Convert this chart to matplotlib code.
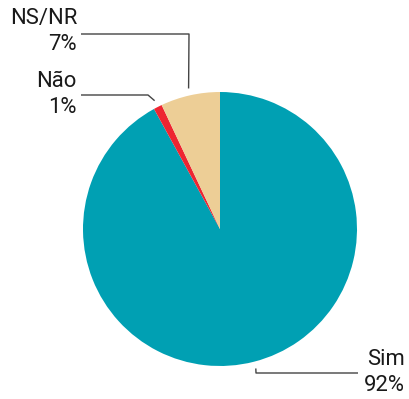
import numpy as np
import matplotlib.pyplot as plt

plt.rcParams['font.family'] = ['Roboto', 'DejaVu Sans']

# data
labels = ['Sim', 'Não', 'NS/NR']
values = [92, 1, 7]
colors = ['#00A0B3', '#EE2531', '#EDCE96']

# layout in pixels (y measured from the bottom)
W, H = 409, 399
center = (220, H - 229)
radius = 137

fig = plt.figure(figsize=(W / 100, H / 100), dpi=100)
ax = fig.add_axes([0, 0, 1, 1])

wedges, _ = ax.pie(values, colors=colors, startangle=90, counterclock=False,
                   center=center, radius=radius,
                   wedgeprops=dict(linewidth=0))
# pie() resets the limits, so set them afterwards
ax.set_xlim(0, W)
ax.set_ylim(0, H)
ax.set_aspect('equal')
ax.axis('off')

# leader line knees and label positions
knees = {
    'Sim': [(256, H - 373), (358, H - 373)],
    'Não': [(148, H - 95), (81, H - 95)],
    'NS/NR': [(189, H - 34), (81, H - 34)],
}
text_pos = {
    'Sim': (405, H - 349),
    'Não': (77, H - 71),
    'NS/NR': (77, H - 8),
}

for w, lab, v in zip(wedges, labels, values):
    ang = np.deg2rad((w.theta1 + w.theta2) / 2)
    r = radius + 7
    x0 = center[0] + r * np.cos(ang)
    y0 = center[1] + r * np.sin(ang)
    pts = [(x0, y0)] + knees[lab]
    xs, ys = zip(*pts)
    ax.plot(xs, ys, color='#444444', lw=1.0, solid_capstyle='butt')
    tx, ty = text_pos[lab]
    ax.text(tx, ty, f'{lab}\n{v}%', ha='right', va='top', multialignment='right',
            fontsize=15.8, color='#1a1a1a', linespacing=1.3)

fig.savefig('out.png', dpi=100)
